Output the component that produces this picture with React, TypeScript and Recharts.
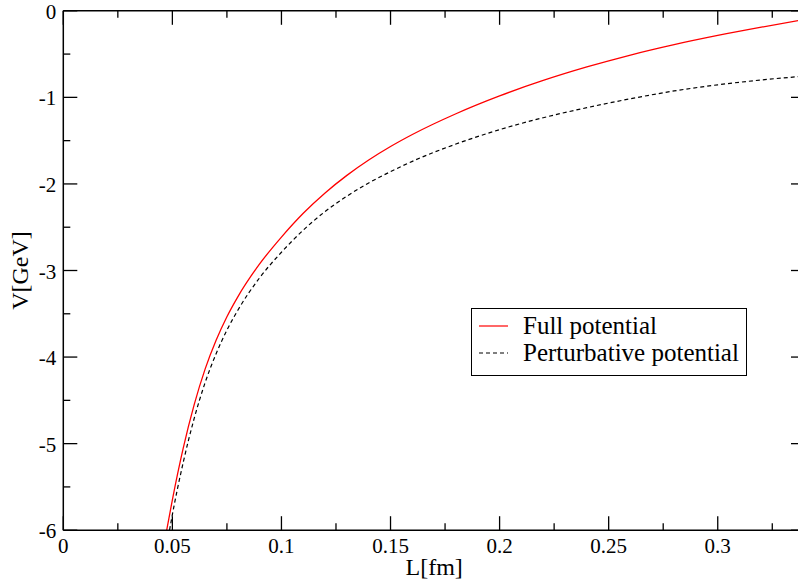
import React from 'react';
import { LineChart, Line, XAxis, YAxis, Legend } from 'recharts';

// ---- data ----
const fullL = [0.0474, 0.05, 0.055, 0.06, 0.065, 0.07, 0.075, 0.08, 0.09, 0.1, 0.11, 0.12, 0.13, 0.14, 0.15, 0.16, 0.18, 0.2, 0.22, 0.24, 0.26, 0.28, 0.3, 0.32, 0.34];
const fullV = [-6.0, -5.649, -5.049, -4.549, -4.139, -3.809, -3.534, -3.304, -2.924, -2.614, -2.339, -2.104, -1.901, -1.724, -1.568, -1.429, -1.189, -0.983, -0.805, -0.649, -0.511, -0.391, -0.285, -0.189, -0.099];

const pertL = [0.0487, 0.05, 0.055, 0.06, 0.065, 0.07, 0.075, 0.08, 0.09, 0.1, 0.11, 0.12, 0.13, 0.14, 0.15, 0.16, 0.18, 0.2, 0.22, 0.24, 0.26, 0.28, 0.3, 0.32, 0.34];
const pertV = [-6.0, -5.82, -5.214, -4.709, -4.296, -3.964, -3.689, -3.459, -3.084, -2.789, -2.534, -2.319, -2.141, -1.989, -1.858, -1.739, -1.539, -1.373, -1.235, -1.119, -1.016, -0.926, -0.855, -0.799, -0.754];

const seriesNames = ['Full potential', 'Perturbative potential'];
const xMajor = [0, 0.05, 0.1, 0.15, 0.2, 0.25, 0.3];
const xMinor = [0.025, 0.075, 0.125, 0.175, 0.225, 0.275, 0.325];
const yMajor = [0, -1, -2, -3, -4, -5, -6];
const yMinor = [-0.5, -1.5, -2.5, -3.5, -4.5, -5.5];
const xDomain = [0, 0.34];
const yDomain = [-6, 0];
const xLabel = 'L[fm]';
const yLabel = 'V[GeV]';

const fullData = fullL.map((L, i) => ({ L, v: fullV[i] }));
const pertData = pertL.map((L, i) => ({ L, v: pertV[i] }));
const xTicks = [...xMajor, ...xMinor].sort((a, b) => a - b);
const yTicks = [...yMajor, ...yMinor].sort((a, b) => a - b);

const FONT = '"Liberation Serif", "DejaVu Serif", serif';
const MAJOR = 14;
const MINOR = 7;
const isMajor = (list: number[], v: number) => list.some((m) => Math.abs(m - v) < 1e-9);

const BottomTick = (props: any) => {
  const { x, y, payload } = props;
  const maj = isMajor(xMajor, payload.value);
  return (
    <g>
      <line x1={x} x2={x} y1={y} y2={y - (maj ? MAJOR : MINOR)} stroke="#000" strokeWidth={1.3} />
      {maj && (
        <text x={x} y={y + 23} textAnchor="middle" fontFamily={FONT} fontSize={21} fill="#000">
          {String(payload.value)}
        </text>
      )}
    </g>
  );
};

const TopTick = (props: any) => {
  const { x, y, payload } = props;
  const maj = isMajor(xMajor, payload.value);
  return <line x1={x} x2={x} y1={y} y2={y + (maj ? MAJOR : MINOR)} stroke="#000" strokeWidth={1.3} />;
};

const LeftTick = (props: any) => {
  const { x, y, payload } = props;
  const maj = isMajor(yMajor, payload.value);
  return (
    <g>
      <line x1={x} x2={x + (maj ? MAJOR : MINOR)} y1={y} y2={y} stroke="#000" strokeWidth={1.3} />
      {maj && (
        <text x={x - 7} y={y + 8} textAnchor="end" fontFamily={FONT} fontSize={21} fill="#000">
          {String(payload.value)}
        </text>
      )}
    </g>
  );
};

const RightTick = (props: any) => {
  const { x, y, payload } = props;
  const maj = isMajor(yMajor, payload.value);
  return <line x1={x} x2={x - (maj ? MAJOR : MINOR)} y1={y} y2={y} stroke="#000" strokeWidth={1.3} />;
};

const LegendBox = () => (
  <svg width={276} height={68} style={{ display: 'block' }}>
    <rect x={0.5} y={0.5} width={275} height={67} fill="#fff" stroke="#000" strokeWidth={1} />
    <line x1={8} x2={37} y1={18} y2={18} stroke="#ff0000" strokeWidth={1.2} />
    <text x={52} y={25.5} fontFamily={FONT} fontSize={25} fill="#000">{seriesNames[0]}</text>
    <line x1={8} x2={37} y1={45} y2={45} stroke="#000" strokeWidth={1.2} strokeDasharray="4 3" />
    <text x={52} y={53} fontFamily={FONT} fontSize={25} fill="#000">{seriesNames[1]}</text>
  </svg>
);

export default function App() {
  return (
    <div style={{ position: 'absolute', left: 0, top: 0, width: 798, height: 587, overflow: 'hidden', background: '#fff' }}>
      <LineChart width={820} height={587} margin={{ top: 0, right: 0, bottom: 0, left: 0 }}>
        <XAxis
          xAxisId={0}
          dataKey="L"
          type="number"
          domain={xDomain}
          ticks={xTicks}
          interval={0}
          allowDataOverflow
          height={56.8}
          tickSize={0}
          tickMargin={0}
          tickLine={false}
          tick={<BottomTick />}
          axisLine={{ stroke: '#000', strokeWidth: 1.5 }}
          label={{
            content: (p: any) => {
              const vb = p.viewBox || { x: 63.3, y: 530.2, width: 741.7 };
              return (
                <text x={vb.x + vb.width / 2} y={vb.y + 45} textAnchor="middle" fontFamily={FONT} fontSize={24} fill="#000">
                  {xLabel}
                </text>
              );
            },
          }}
        />
        <XAxis
          xAxisId="top"
          orientation="top"
          dataKey="L"
          type="number"
          domain={xDomain}
          ticks={xTicks}
          interval={0}
          allowDataOverflow
          height={10.8}
          tickSize={0}
          tickMargin={0}
          tickLine={false}
          tick={<TopTick />}
          axisLine={{ stroke: '#000', strokeWidth: 1.5 }}
        />
        <YAxis
          yAxisId={0}
          type="number"
          domain={yDomain}
          ticks={yTicks}
          interval={0}
          allowDataOverflow
          width={63.3}
          tickSize={0}
          tickMargin={0}
          tickLine={false}
          tick={<LeftTick />}
          axisLine={{ stroke: '#000', strokeWidth: 1.5 }}
          label={{
            content: (p: any) => {
              const vb = p.viewBox || { x: 0, y: 10.8, width: 63.3, height: 519.4 };
              const cx = 28;
              const cy = vb.y + vb.height / 2;
              return (
                <text x={cx} y={cy} transform={`rotate(-90, ${cx}, ${cy})`} textAnchor="middle" fontFamily={FONT} fontSize={24} fill="#000">
                  {yLabel}
                </text>
              );
            },
          }}
        />
        <YAxis
          yAxisId="right"
          orientation="right"
          type="number"
          domain={yDomain}
          ticks={yTicks}
          interval={0}
          allowDataOverflow
          width={15}
          tickSize={0}
          tickMargin={0}
          tickLine={false}
          tick={<RightTick />}
          axisLine={{ stroke: '#000', strokeWidth: 1.5 }}
        />
        <Line
          data={fullData}
          dataKey="v"
          name={seriesNames[0]}
          type="monotone"
          stroke="#ff0000"
          strokeWidth={1.3}
          dot={false}
          activeDot={false}
          isAnimationActive={false}
        />
        <Line
          data={pertData}
          dataKey="v"
          name={seriesNames[1]}
          type="monotone"
          stroke="#000"
          strokeWidth={1.2}
          strokeDasharray="4 3"
          dot={false}
          activeDot={false}
          isAnimationActive={false}
        />
        <Legend
          layout="vertical"
          align="center"
          verticalAlign="middle"
          content={() => <LegendBox />}
          wrapperStyle={{ position: 'absolute', left: 471, top: 308, width: 276, height: 68 }}
        />
      </LineChart>
    </div>
  );
}
